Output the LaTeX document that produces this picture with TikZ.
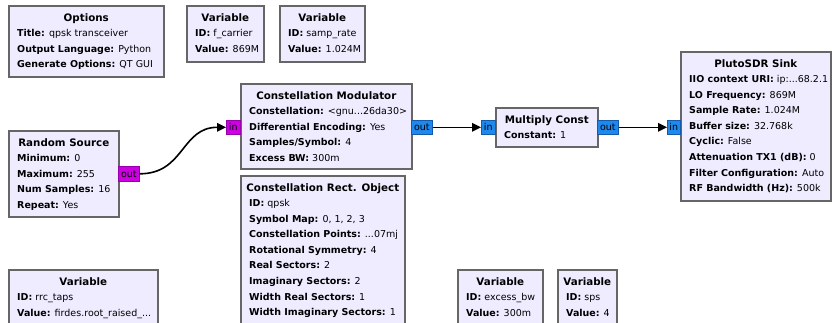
\documentclass[tikz,border=0pt]{standalone}
\usepackage{fontspec}
\setmainfont{DejaVu Sans}
\usetikzlibrary{arrows.meta,calc}

\definecolor{blockfill}{RGB}{240,236,255}
\definecolor{blockline}{RGB}{102,102,102}
\definecolor{byteport}{RGB}{204,0,224}
\definecolor{byteline}{RGB}{150,0,170}
\definecolor{cplxport}{RGB}{30,136,236}
\definecolor{cplxline}{RGB}{20,90,170}

\newcommand\blkfont{\fontsize{9.5}{11.5}\selectfont}
\newcommand\ttlfont{\fontsize{10.3}{12.5}\selectfont\bfseries}

\tikzset{
  blk/.style={draw=blockline, line width=1.6pt, fill=blockfill, inner sep=0pt},
  ttl/.style={anchor=base, inner sep=0pt, font=\ttlfont},
  fld/.style={anchor=base west, inner sep=0pt, font=\blkfont},
  portbox/.style={draw, line width=0.6pt, inner sep=0pt, minimum height=14pt,
    anchor=north west, font=\blkfont},
  bport/.style={portbox, fill=byteport, draw=byteline},
  cport/.style={portbox, fill=cplxport, draw=cplxline},
  wire/.style={draw=black, line width=1.6pt, -{Triangle[length=9pt,width=8.5pt]}},
}

% block frame and centred bold title; fields follow with \fline
\newcount\linenum
\newcommand\blockhead[6]{%
  \node[blk, minimum width=#4pt, minimum height=#5pt, anchor=north west] (#1) at (#2,#3) {};
  \node[ttl] (#1-title) at ([yshift=-16pt]#1.north) {#6};
  \gdef\curblk{#1}\global\linenum=0\relax}
\newcommand\fline[2]{%
  \global\advance\linenum by 1\relax
  \pgfmathsetmacro\lineoff{31.5+15.6*(\the\linenum-1)}%
  \node[fld] (\curblk-\the\linenum) at ([xshift=9pt,yshift=-\lineoff pt]\curblk.north west) {\textbf{#1:} #2};}

\begin{document}
\begin{tikzpicture}[x=1pt,y=-1pt]
\useasboundingbox (0,0) rectangle (832,322);
\clip (0,0) rectangle (832,322);

% top row
\blockhead{opts}{8}{5}{155}{71}{Options}
\fline{Title}{qpsk transceiver}
\fline{Output Language}{Python}
\fline{Generate Options}{QT GUI}

\blockhead{fcar}{186}{5}{77}{56}{Variable}
\fline{ID}{f\_carrier}
\fline{Value}{869M}

\blockhead{srate}{279}{5}{85}{56}{Variable}
\fline{ID}{samp\_rate}
\fline{Value}{1.024M}

% signal chain
\blockhead{rsrc}{8}{130}{110}{86}{Random Source}
\fline{Minimum}{0}
\fline{Maximum}{255}
\fline{Num Samples}{16}
\fline{Repeat}{Yes}

\blockhead{cmod}{240}{83}{171}{85}{Constellation Modulator}
\fline{Constellation}{<gnu...26da30>}
\fline{Differential Encoding}{Yes}
\fline{Samples/Symbol}{4}
\fline{Excess BW}{300m}

\blockhead{mult}{495}{107}{102}{39}{Multiply Const}
\fline{Constant}{1}

\blockhead{pluto}{680}{51}{150}{149}{PlutoSDR Sink}
\fline{IIO context URI}{ip:...68.2.1}
\fline{LO Frequency}{869M}
\fline{Sample Rate}{1.024M}
\fline{Buffer size}{32.768k}
\fline{Cyclic}{False}
\fline{Attenuation TX1 (dB)}{0}
\fline{Filter Configuration}{Auto}
\fline{RF Bandwidth (Hz)}{500k}

% lower row
\blockhead{crect}{240}{175}{164}{160}{Constellation Rect. Object}
\fline{ID}{qpsk}
\fline{Symbol Map}{0, 1, 2, 3}
\fline{Constellation Points}{...07mj}
\fline{Rotational Symmetry}{4}
\fline{Real Sectors}{2}
\fline{Imaginary Sectors}{2}
\fline{Width Real Sectors}{1}
\fline{Width Imaginary Sectors}{1}

\blockhead{rrc}{8}{269}{149}{70}{Variable}
\fline{ID}{rrc\_taps}
\fline{Value}{firdes.root\_raised\_...}

\blockhead{ebw}{457}{269}{85}{70}{Variable}
\fline{ID}{excess\_bw}
\fline{Value}{300m}

\blockhead{sps}{557}{269}{59}{70}{Variable}
\fline{ID}{sps}
\fline{Value}{4}

% ports
\node[bport, minimum width=21pt, minimum height=15pt] (rsrc-out) at (118,166) {out};
\node[bport, minimum width=14pt] (cmod-in) at (226,120) {in};
\node[cport, minimum width=21pt] (cmod-out) at (411,120) {out};
\node[cport, minimum width=14pt] (mult-in) at (481,120) {in};
\node[cport, minimum width=21pt] (mult-out) at (597,120) {out};
\node[cport, minimum width=13pt] (pluto-in) at (667,120) {in};

% connections
\draw[wire] (rsrc-out.east) .. controls +(45,0) and +(-45,0) .. (cmod-in.west);
\draw[wire] (cmod-out.east) -- (mult-in.west);
\draw[wire] (mult-out.east) -- (pluto-in.west);
\end{tikzpicture}
\end{document}
